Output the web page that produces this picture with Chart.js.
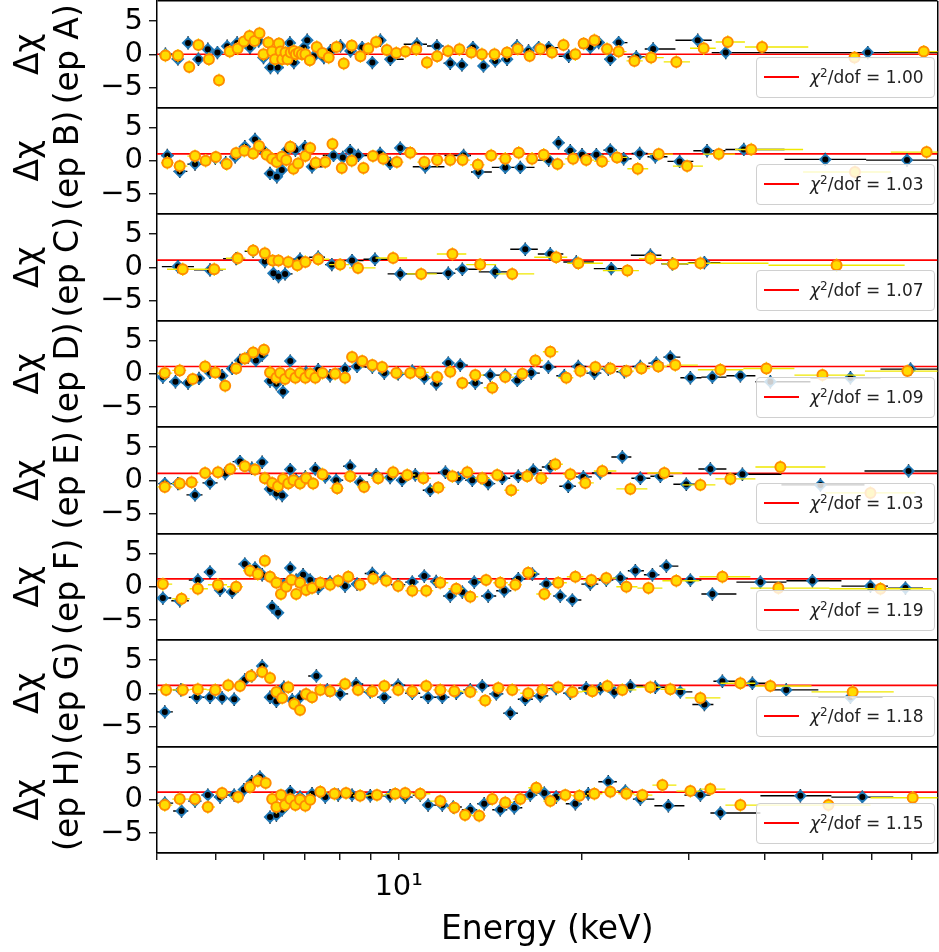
<!DOCTYPE html>
<html><head><meta charset="utf-8">
<script src="https://cdn.jsdelivr.net/npm/chart.js@4.4.1/dist/chart.umd.min.js"></script>
<style>
html,body{margin:0;padding:0;background:#fff;overflow:hidden;}
#wrap{position:relative;width:939px;height:952px;overflow:hidden;}
#c{position:absolute;left:0;top:0;}
.leg{position:absolute;left:756px;width:177px;height:39px;border:1px solid #d0d0d0;border-radius:4px;background:rgba(255,255,255,0.8);font-family:'DejaVu Sans';font-size:17px;color:#222;z-index:2;}
.leg .ln{position:absolute;left:7px;top:18px;width:35px;height:2px;background:#ff0000;}
.leg .tx{position:absolute;left:53px;top:9px;white-space:nowrap;line-height:20px;}
.leg sup{font-size:12px;vertical-align:6px;line-height:0;}
</style></head><body><div id="wrap"><canvas id="c" width="939" height="952"></canvas></div>
<script>
// ---- labels / ticks ----
const panelNames = ['A','B','C','D','E','F','G','H'];
const chi2Labels = ['1.00','1.03','1.07','1.09','1.03','1.19','1.18','1.15'];
const refLevels  = [0, 1.03, 1.07, 1.09, 1.03, 1.19, 1.18, 1.15];
const xTickValues = [4,5,6,7,8,9,10,20,30,40,50,60,70];
const yTickValues = [-5,0,5];
const xMin = 4, xMax = 77.12, yMin = -8, yMax = 8;

// ---- data: energy (keV) and residual (Δχ); series 1 = blue diamonds, series 2 = orange circles ----
const eA_1 = [4.13,4.33,4.50,4.68,4.85,5.03,5.22,5.42,5.69,5.88,5.99,6.15,6.32,6.62,6.72,6.98,7.07,7.25,7.53,7.72,8.02,8.33,8.71,9.05,9.33,9.69,10.72,11.56,12.16,12.71,13.25,13.79,14.42,15.08,15.66,16.36,17.00,17.66,19.05,20.68,21.34,22.31,23.02,24.62,26.24,31.07,34.55,59.2];
const rA_1 = [0,-0.7,1.7,-0.75,0.75,0.25,1.2,1.7,1.0,2.0,-0.5,-2.0,-2.0,1.7,-1.25,1.0,2.1,-0.3,-0.5,0.5,1.25,0.5,1.0,-1.25,2.1,-0.75,1.5,1.25,-1.35,-1.6,1.0,-1.75,-1.0,-0.75,1.25,0.5,1.0,1.0,-0.3,1.0,1.75,-0.75,1.75,-0.4,0.8,2.1,0.25,0.25];
const eA_2 = [4.13,4.33,4.52,4.68,4.87,5.06,5.27,5.43,5.56,5.68,5.79,5.90,5.99,6.10,6.19,6.26,6.35,6.39,6.43,6.51,6.56,6.64,6.72,6.77,6.85,6.93,7.02,7.14,7.33,7.49,7.67,7.90,8.12,8.37,8.65,8.91,9.18,9.56,9.91,10.26,10.69,11.13,11.57,12.06,12.59,13.17,13.71,14.38,15.08,15.70,16.43,17.11,17.88,18.68,19.54,20.16,21.00,22.03,23.02,24.44,26.04,28.65,31.78,34.82,39.66,56.3,73.2];
const rA_2 = [-0.2,-0.2,-1.9,1.4,-0.75,-3.9,0.4,0.85,1.9,2.75,2.0,3.15,0,1.75,0.4,-0.75,1.6,0.4,-0.75,0.25,-0.75,0.25,0.5,0,0.25,0,0,-0.9,1.1,0.2,-0.5,1.1,-1.4,1.3,-0.3,0.85,1.85,0.65,0.2,0.4,0.75,-1.25,-0.3,0.5,0.75,0.25,0,0,0.25,0.8,-0.25,0.8,0.25,1.4,0,1.6,2.1,0.8,0.4,-1.0,-0.5,-1.15,0.9,1.85,1.1,-0.5,0.4];

const eB_1 = [4.16,4.36,4.62,4.99,5.19,5.38,5.58,5.80,5.98,6.14,6.30,6.42,6.55,6.76,7.01,7.20,7.81,8.09,8.32,8.58,9.32,9.68,10.06,11.06,12.79,13.53,14.98,15.86,17.66,18.33,19.17,20.04,21.16,22.31,23.46,24.93,26.46,29.01,32.19,37.0,50.4,68.7];
const rB_1 = [0.8,-1.6,-0.5,0.4,-0.3,0.6,2.1,3.2,1.6,-1.9,-2.4,-1.4,1.6,1.6,2.1,-0.9,0.8,0.5,1.5,0.8,1.1,-0.4,1.9,-0.9,0.8,-1.7,-1.0,-1.0,0.1,2.7,1.5,0.9,0.9,1.6,0.3,1.1,0.6,-0.1,1.5,1.7,0.2,0.1];
const eB_2 = [4.16,4.36,4.62,4.81,5.00,5.21,5.40,5.57,5.76,5.89,6.06,6.19,6.30,6.42,6.53,6.63,6.71,6.83,7.02,7.15,7.30,7.57,7.78,8.06,8.37,8.75,9.07,9.43,9.93,10.45,11.02,11.57,12.16,12.74,13.50,14.20,14.98,15.76,16.58,17.33,18.26,19.37,20.36,21.62,22.88,24.75,26.80,29.85,33.65,38.06,56.4,74.0];
const rB_2 = [-0.3,-0.8,0.7,0,0.55,-0.5,1.15,1.5,1.1,2.2,0.9,0.3,-0.2,0.6,0.1,2.1,-1.2,-0.4,0.7,1.9,-0.3,-0.2,2.5,-1.1,0.0,-1.1,0.7,0.3,-0.2,1.2,-0.2,0.1,0.1,0.1,-0.6,0.8,0.3,1.2,0.3,0.9,-0.5,0.3,0.1,-0.1,0.5,-1.2,1.0,-0.8,1.0,1.7,-1.7,1.3];

const eC_1 = [4.33,4.89,5.40,5.76,6.02,6.22,6.34,6.50,6.88,7.37,7.76,8.38,9.14,10.06,12.07,12.73,14.42,16.16,17.77,19.61,22.39,25.97,28.22,31.87];
const rC_1 = [0.1,-0.4,1.3,2.4,0.85,-0.9,-1.4,-1.0,1.2,1.5,0.4,1.0,1.2,-1.0,-0.9,-0.3,-0.7,2.7,2.0,0.8,-0.2,1.8,0.5,0.7];
const eC_2 = [4.41,4.97,5.43,5.76,6.02,6.20,6.34,6.58,6.81,7.02,7.37,8.01,8.57,9.79,10.89,12.26,13.62,15.38,18.17,19.76,23.80,25.97,28.33,31.39,52.6];
const rC_2 = [-0.3,-0.3,1.35,2.5,2.1,1.0,1.0,0.8,0.3,0.8,1.2,0.4,-0.1,1.4,-1.0,2.0,0.4,-1.0,1.5,0.6,-0.5,1.3,0.5,0.6,0.3];

const eD_1 = [4.09,4.29,4.50,4.69,4.89,5.12,5.32,5.48,5.65,5.82,5.96,6.14,6.29,6.45,6.63,6.83,7.04,7.37,7.71,8.16,8.54,9.05,9.47,9.98,10.53,11.02,11.53,12.07,12.63,13.37,14.15,14.98,15.68,16.53,17.64,18.73,19.76,21.00,22.14,23.53,25.00,26.56,28.01,30.22,32.85,36.53,40.93,55.44,69.62];
const rD_1 = [-0.5,-1.2,-1.4,-0.7,0.2,-0.3,0.8,2.0,2.5,2.0,2.8,-1.1,-1.5,-2.7,1.9,-0.2,0.2,0.6,-0.3,0.7,1.1,1.0,0.1,0,0.4,-0.6,-1.5,1.6,1.3,-1.4,-0.2,-0.2,-1.0,0.1,1.0,-0.3,1.1,0.1,0.7,0.3,1.1,1.6,2.5,-0.6,-0.5,-0.3,-1.2,-0.6,0.7];
const eD_2 = [4.12,4.36,4.58,4.80,4.99,5.18,5.40,5.58,5.76,6.00,6.14,6.29,6.38,6.50,6.63,6.76,6.88,7.02,7.15,7.29,7.49,7.86,8.16,8.38,8.71,9.05,9.39,9.91,10.45,10.85,11.57,12.16,12.73,13.37,14.26,14.98,15.98,16.79,17.77,18.88,19.91,21.08,22.31,23.71,25.10,26.76,28.54,33.86,40.31,49.86,68.8];
const rD_2 = [0.1,0.5,-0.8,1.1,0.2,-1.8,0.8,2.3,3.2,3.6,0.2,-0.6,0.1,-0.8,0,-0.6,0.1,-0.6,0,-0.6,0.1,0,-0.6,2.5,1.9,1.3,1.0,0.1,0.1,0.2,-0.5,0.3,-1.4,-0.2,-2.1,-0.5,0,2.0,3.3,-0.6,0.4,1.0,0.8,0.4,0.8,1.1,1.3,0.6,0.8,-0.2,0.4];

const eE_1 = [4.12,4.33,4.62,4.89,5.18,5.48,5.73,5.96,6.14,6.29,6.43,6.63,6.78,7.02,7.29,7.57,7.89,8.32,8.64,9.18,9.68,10.13,10.65,11.27,11.94,12.53,13.22,14.04,14.81,15.74,16.66,17.77,19.02,20.14,21.48,23.35,25.00,26.97,29.76,32.60,36.81,49.48,69.1];
const rE_1 = [-0.5,-0.5,-2.2,-0.4,1.0,2.8,1.8,2.7,-1.3,-2.0,-2.3,1.6,0,0.5,1.7,0.5,0,2.1,-0.3,0.8,0.4,0,0.8,-1.5,1.2,0.3,0,-0.5,0.3,0.6,1.5,2.0,-0.9,0.5,1.1,3.5,0.3,0.6,-0.6,1.7,0.9,-0.7,1.4];
const eE_2 = [4.12,4.36,4.56,4.80,5.04,5.28,5.58,5.80,6.02,6.19,6.33,6.45,6.58,6.71,6.88,7.04,7.23,7.49,7.92,8.32,8.77,9.25,9.79,10.33,10.98,11.62,12.26,12.97,13.73,14.53,15.32,16.28,17.17,18.11,19.17,20.29,21.64,24.07,27.38,31.39,35.17,42.51,59.81];
const rE_2 = [-1.0,-0.5,-0.3,1.1,1.2,1.7,2.1,1.6,0.3,-0.4,-0.9,0.2,-0.5,0,-0.5,0.3,-0.5,0.9,-1.2,0.6,-1.0,0.3,1.2,0.8,0.3,-1.1,0.6,1.2,0.3,0.8,-1.5,0.6,0.3,2.4,0.9,-0.4,1.4,-1.3,1.1,-0.7,0.2,2.0,-1.9];

const eF_1 = [4.09,4.36,4.67,4.89,5.08,5.32,5.58,5.80,5.96,6.19,6.33,6.47,6.63,6.78,6.96,7.15,7.37,7.71,8.16,8.54,9.05,9.47,9.98,10.53,11.02,11.53,12.16,12.73,13.32,14.04,14.92,15.74,16.60,17.50,18.45,19.32,20.68,21.97,23.17,24.53,26.17,27.59,30.22,32.85,39.41,48.0,59.81,68.3];
const rF_1 = [-1.7,-2.1,1.0,2.2,-0.5,-0.8,3.4,2.8,1.8,-3.0,-3.9,0.3,2.8,1.0,1.8,1.0,-0.2,0.7,0.1,0.4,2.0,1.3,0.3,0.7,1.6,0.8,-1.4,-0.8,0.7,-1.4,-0.6,1.2,1.9,0.4,-1.4,-2.0,0.4,1.0,1.3,2.4,1.8,3.1,1.0,-1.1,0.7,0.9,0.1,-0.2];
const eF_2 = [4.09,4.39,4.67,5.04,5.40,5.69,5.86,6.02,6.14,6.29,6.40,6.53,6.66,6.78,6.88,7.04,7.20,7.43,7.71,7.95,8.26,8.64,9.08,9.54,9.98,10.53,11.10,11.71,12.44,13.12,13.93,14.70,15.56,16.34,17.37,18.31,19.54,20.76,21.97,23.71,25.78,28.65,34.12,42.19,62.13];
const rF_2 = [0.4,-1.8,-0.3,0.3,0,2.4,1.9,3.9,1.5,0.6,-1.1,0,1.0,-1.1,0.6,-0.5,-0.2,0.6,0.3,0.9,1.5,0.3,1.2,0.9,0.1,-0.6,-0.6,0.6,-0.3,-1.5,1.0,0.6,0.3,2.1,-1.1,0.6,1.5,1.0,1.3,0,-0.2,0.9,1.5,-0.2,-0.3];

const eG_1 = [4.12,4.38,4.65,4.89,5.12,5.36,5.58,5.73,5.96,6.14,6.29,6.47,6.68,6.88,7.32,7.63,8.01,8.51,8.98,9.47,9.98,10.53,11.18,11.80,12.44,13.12,13.73,14.48,15.27,16.16,17.11,18.17,19.17,20.36,21.48,22.65,24.07,26.46,29.09,31.87,34.12,38.23,43.46,55.44];
const rG_1 = [-2.8,0.5,-0.6,-0.6,-0.7,-0.9,2.0,2.6,4.1,-0.6,-1.2,0.9,-1.0,-0.6,2.6,0.5,-0.1,1.4,0.2,-0.6,1.2,0,-0.6,-0.6,0,0.5,1.1,-0.1,-3.0,-0.9,-0.4,0.7,0,0.8,0.7,0.2,1.1,0.9,0.2,-1.7,1.8,1.5,0.5,-0.6];
const eG_2 = [4.14,4.41,4.67,4.99,5.24,5.48,5.71,5.96,6.14,6.29,6.43,6.58,6.73,6.88,7.04,7.20,7.43,7.71,8.16,8.57,9.05,9.47,9.98,10.53,11.10,11.71,12.35,13.12,13.88,14.59,15.38,16.34,17.24,18.31,19.32,20.84,22.06,23.35,25.97,28.01,31.39,36.53,40.93,55.9];
const rG_2 = [0.5,0.5,0.6,0.5,1.2,1.1,2.6,3.2,2.3,0.2,-0.7,0.9,-1.6,-2.5,-0.1,-0.6,0.5,0.3,1.4,0.5,0.3,1.1,0.5,0.3,1.1,0.5,0.3,0.2,-1.1,0.8,0.5,0,0.5,0.9,0.2,0.3,1.1,0.5,0.9,0.6,-0.7,1.5,1.1,0.2];

const eH_1 = [4.12,4.39,4.62,4.85,5.08,5.36,5.56,5.73,5.91,6.14,6.29,6.43,6.63,6.88,7.20,7.57,7.95,8.38,8.98,9.68,10.25,10.85,11.18,11.80,12.30,13.12,13.83,14.70,15.50,16.47,17.37,18.17,19.54,20.52,22.14,23.62,25.00,27.80,31.39,33.86,45.86,58.0];
const rH_1 = [-0.5,-1.7,-0.2,0.7,0.4,0.7,1.5,2.7,3.4,-2.6,-2.3,-1.5,1.2,0.4,0.9,0.4,0.7,0.7,0.6,0.6,0.4,0.7,-0.8,-0.8,-1.1,-1.5,-0.6,-1.5,-1.2,0.7,1.0,0.4,-0.6,0.9,2.7,1.3,0.1,-0.9,0.7,-2.0,0.6,0.4];
const eH_2 = [4.12,4.36,4.62,4.85,5.12,5.44,5.69,5.86,6.04,6.19,6.29,6.40,6.50,6.63,6.76,6.88,7.02,7.15,7.43,7.84,8.19,8.64,9.21,9.87,10.25,10.85,11.71,12.35,12.86,13.57,14.26,14.98,15.86,16.85,17.77,18.81,19.84,21.00,22.31,23.71,25.19,27.18,30.22,32.60,36.53,51.0,70.2];
const rH_2 = [-0.8,0.1,0.1,-1.1,1.0,0.4,1.9,2.8,2.5,0.1,-1.1,0.7,-0.8,0.1,-0.8,0,-0.9,0,1.2,0.9,1.0,0.6,0.7,0.9,1.0,0.9,-0.2,-1.2,-2.3,-2.4,0.1,-0.4,0.1,1.8,-0.2,0.7,0.6,0.9,1.2,0.9,0.7,2.2,1.3,1.6,-0.8,-0.8,0.3];

const series1 = [[eA_1,rA_1],[eB_1,rB_1],[eC_1,rC_1],[eD_1,rD_1],[eE_1,rE_1],[eF_1,rF_1],[eG_1,rG_1],[eH_1,rH_1]];
const series2 = [[eA_2,rA_2],[eB_2,rB_2],[eC_2,rC_2],[eD_2,rD_2],[eE_2,rE_2],[eF_2,rF_2],[eG_2,rG_2],[eH_2,rH_2]];

// ---- helpers ----
function binEdges(E){
  return E.map((e,i)=>{
    const hi = i < E.length-1 ? Math.sqrt(e*E[i+1]) : e*e/Math.sqrt(E[i-1]*e);
    const lo = i > 0 ? Math.sqrt(E[i-1]*e) : e*e/Math.sqrt(e*E[1]);
    return [lo,hi];
  });
}
function errSegments(E,R){
  const b = binEdges(E), out = [];
  E.forEach((e,i)=>{
    out.push({x:b[i][0],y:R[i]},{x:b[i][1],y:R[i]},{x:e,y:null});
    out.push({x:e,y:R[i]-1},{x:e,y:R[i]+1},{x:e,y:null});
  });
  return out;
}
function pts(E,R){ return E.map((e,i)=>({x:e,y:R[i]})); }

Chart.defaults.font.family = "'DejaVu Sans'";
Chart.defaults.color = '#000';

const datasets = [];
const scales = {
  x: {
    type:'logarithmic', position:'bottom', min:xMin, max:xMax,
    afterBuildTicks: s => { s.ticks = xTickValues.concat([xMax]).map(v=>({value:v, major:v===10})); },
    ticks:{ autoSkip:false, maxRotation:0, minRotation:0, padding:10, color:'#000',
      font:{size:29}, callback: v => v===10 ? '10¹' : '' },
    grid:{ drawOnChartArea:true, lineWidth:1.5, tickLength:7, tickWidth:1.3,
      color: c => (c.tick && c.tick.value===xMax) ? '#000' : 'rgba(0,0,0,0)',
      tickColor: c => (c.tick && c.tick.value===xMax) ? 'rgba(0,0,0,0)' : '#000' },
    border:{display:true, color:'#000', width:1.5},
    title:{display:true, text:'Energy (keV)', color:'#000', font:{size:33}, padding:{top:0,bottom:2}},
    afterFit: s => { s.height = 99; s.paddingLeft = 0; s.paddingRight = 0; }
  }
};

panelNames.forEach((p,i)=>{
  const yid = 'y'+p;
  scales[yid] = {
    type:'linear', position:'left', stack:'res', stackWeight:1, weight:panelNames.length-i,
    min:yMin, max:yMax,
    afterBuildTicks: s => { s.ticks = [yMin].concat(yTickValues,[yMax]).map(v=>({value:v})); },
    ticks:{ autoSkip:false, padding:6, color:'#000', font:{size:29},
      callback: v => yTickValues.includes(v) ? (v<0 ? '\u2212'+Math.abs(v) : String(v)) : '' },
    grid:{ drawOnChartArea:true, lineWidth:1.5, tickLength:8, tickWidth:1.3,
      color: c => (c.tick && Math.abs(c.tick.value)===yMax) ? '#000' : 'rgba(0,0,0,0)',
      tickColor: c => (c.tick && Math.abs(c.tick.value)===yMax) ? 'rgba(0,0,0,0)' : '#000' },
    border:{display:true, color:'#000', width:1.5},
    title:{display:true, text:['\u0394\u03c7','(ep '+p+')'], color:'#000', font:{size:33}, padding:{top:10,bottom:0}},
    afterFit: s => { s.width = 157; s.paddingTop = 0; s.paddingBottom = 0; }
  };
  const [E1,R1] = series1[i], [E2,R2] = series2[i];
  datasets.push({type:'line', label:'chi2 '+p, data:[{x:xMin,y:refLevels[i]},{x:xMax,y:refLevels[i]}],
    borderColor:'#ff0000', borderWidth:1.6, pointRadius:0, yAxisID:yid, order:10});
  datasets.push({type:'line', label:'err1 '+p, data:errSegments(E1,R1), borderColor:'#000000',
    borderWidth:1.4, pointRadius:0, spanGaps:false, yAxisID:yid, order:8});
  datasets.push({type:'scatter', label:'s1 '+p, data:pts(E1,R1), pointStyle:'rectRot', pointRadius:6.5,
    backgroundColor:'#1f77b4', borderColor:'#1f77b4', borderWidth:0, yAxisID:yid, order:7});
  datasets.push({type:'scatter', label:'s1c '+p, data:pts(E1,R1), pointStyle:'circle', pointRadius:3,
    backgroundColor:'#000000', borderWidth:0, yAxisID:yid, order:6});
  datasets.push({type:'line', label:'err2 '+p, data:errSegments(E2,R2), borderColor:'#f0e800',
    borderWidth:1.4, pointRadius:0, spanGaps:false, yAxisID:yid, order:5});
  datasets.push({type:'scatter', label:'s2 '+p, data:pts(E2,R2), pointStyle:'circle', pointRadius:5,
    backgroundColor:'#ffdc00', borderColor:'#ff8c00', borderWidth:2, yAxisID:yid, order:4});
});

new Chart(document.getElementById('c'), {
  type:'scatter',
  data:{datasets},
  options:{
    responsive:false, animation:false, devicePixelRatio:1, events:[],
    layout:{autoPadding:false, padding:{top:1,right:1.5,left:0,bottom:0}},
    plugins:{legend:{display:false}, tooltip:{enabled:false}, title:{display:false}},
    scales
  }
});

// ---- per-panel legends (HTML overlay) ----
const wrap = document.getElementById('wrap');
const top0 = 1, panelH = (853-1)/panelNames.length;
panelNames.forEach((p,i)=>{
  const d = document.createElement('div');
  d.className = 'leg';
  d.style.top = (top0 + panelH*(i+1) - 50.5) + 'px';
  d.innerHTML = '<div class="ln"></div><div class="tx"><i>\u03c7</i><sup>2</sup>/dof = '+chi2Labels[i]+'</div>';
  wrap.appendChild(d);
});
</script></body></html>
